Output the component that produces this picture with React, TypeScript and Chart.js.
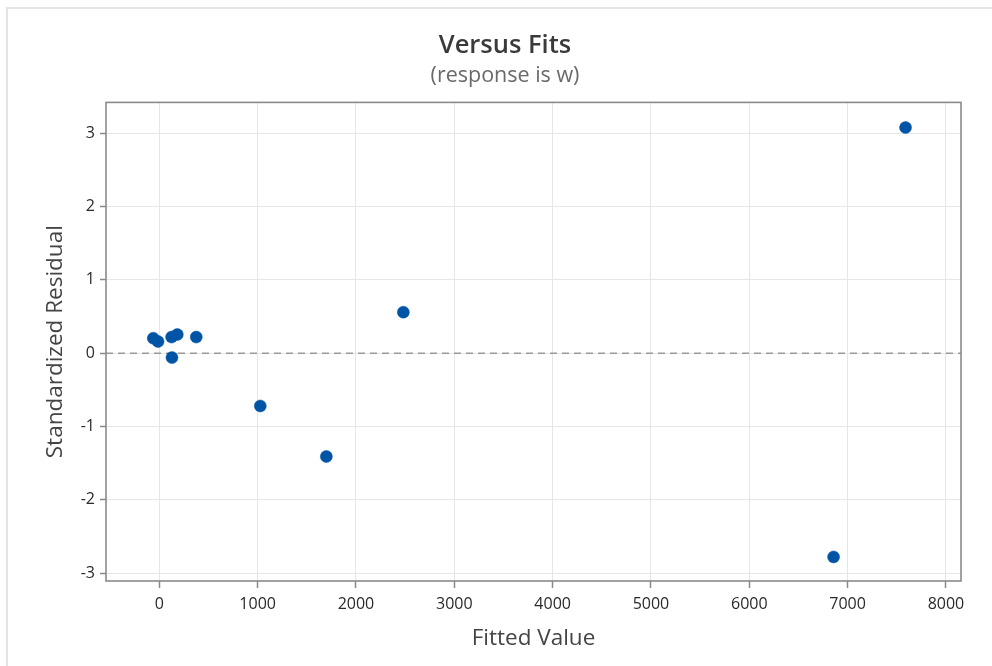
import React, { useEffect, useRef } from "react";
import { Chart, registerables } from "chart.js";

Chart.register(...registerables);

const fittedValues = [-61, -13, 125, 183, 376, 129, 1027, 1699, 2482, 6857, 7589];
const standardizedResiduals = [0.205, 0.16, 0.22, 0.255, 0.22, -0.06, -0.72, -1.41, 0.56, -2.78, 3.08];
const xTickValues = [0, 1000, 2000, 3000, 4000, 5000, 6000, 7000, 8000];
const yTickValues = [-3, -2, -1, 0, 1, 2, 3];
const xRange = [-542, 8153];
const yRange = [-3.109, 3.423];
const referenceLevel = 0;

const FONT = "'Open Sans', 'Noto Sans', sans-serif";

const framePlugin = {
  id: "frameAndRef",
  beforeDatasetsDraw(chart: any) {
    const { ctx, chartArea, scales } = chart;
    const y0 = scales.y.getPixelForValue(referenceLevel);
    ctx.save();
    ctx.strokeStyle = "#9a9a9a";
    ctx.lineWidth = 1.5;
    ctx.setLineDash([7, 5]);
    ctx.beginPath();
    ctx.moveTo(chartArea.left, y0);
    ctx.lineTo(chartArea.right, y0);
    ctx.stroke();
    ctx.setLineDash([]);
    ctx.strokeStyle = "#8a8a8a";
    ctx.lineWidth = 1.6;
    ctx.strokeRect(chartArea.left, chartArea.top, chartArea.right - chartArea.left, chartArea.bottom - chartArea.top);
    ctx.restore();
  },
};

export default function App() {
  const ref = useRef<HTMLCanvasElement | null>(null);
  useEffect(() => {
    if (!ref.current) return;
    const chart = new Chart(ref.current, {
      type: "scatter",
      data: {
        datasets: [
          {
            data: fittedValues.map((x, i) => ({ x, y: standardizedResiduals[i] })),
            backgroundColor: "#0054a6",
            borderColor: "#0054a6",
            borderWidth: 0.5,
            pointRadius: 6,
          },
        ],
      },
      options: {
        animation: false,
        responsive: false,
        maintainAspectRatio: false,
        layout: { padding: { left: 49, right: 31, top: 0, bottom: 0 } },
        plugins: {
          legend: { display: false },
          tooltip: { enabled: false },
          title: {
            display: true,
            text: "Versus Fits",
            color: "#3a3a3a",
            font: { family: FONT, size: 25.5, weight: "600" },
            padding: { top: 30, bottom: 0 },
          },
          subtitle: {
            display: true,
            text: "(response is w)",
            color: "#6a6a6a",
            font: { family: FONT, size: 21.5, weight: "400" },
            padding: { top: 2, bottom: 14 },
          },
        },
        scales: {
          x: {
            type: "linear",
            min: xRange[0],
            max: xRange[1],
            afterBuildTicks(scale: any) {
              scale.ticks = xTickValues.map((value) => ({ value }));
            },
            afterFit(scale: any) {
              scale.height = 85;
            },
            ticks: {
              color: "#2a2a2a",
              font: { family: FONT, size: 16 },
              padding: 7,
              maxRotation: 0,
              autoSkip: false,
              callback: (v: any) => String(v),
            },
            grid: { color: "#e6e6e6", lineWidth: 1, tickLength: 7, tickColor: "#8a8a8a", tickWidth: 1.5 },
            border: { display: false },
            title: {
              display: true,
              text: "Fitted Value",
              color: "#444444",
              font: { family: FONT, size: 22.5 },
              padding: { top: 0, bottom: 14 },
            },
          },
          y: {
            type: "linear",
            min: yRange[0],
            max: yRange[1],
            afterBuildTicks(scale: any) {
              scale.ticks = yTickValues.map((value) => ({ value }));
            },
            afterFit(scale: any) {
              scale.width = 57;
            },
            ticks: {
              color: "#2a2a2a",
              font: { family: FONT, size: 16 },
              padding: 5,
              autoSkip: false,
              callback: (v: any) => String(v),
            },
            grid: { color: "#e6e6e6", lineWidth: 1, tickLength: 6, tickColor: "#8a8a8a", tickWidth: 1.5 },
            border: { display: false },
            title: {
              display: true,
              text: "Standardized Residual",
              color: "#444444",
              font: { family: FONT, size: 22.5 },
              padding: { top: -7, bottom: 0 },
            },
          },
        },
      },
      plugins: [framePlugin],
    });
    return () => chart.destroy();
  }, []);

  return (
    <div style={{ position: "absolute", left: 0, top: 0, width: 992, height: 666, background: "#fff", overflow: "hidden" }}>
      <div
        style={{
          position: "absolute",
          left: 6,
          top: 7,
          width: 1000,
          height: 700,
          borderTop: "2px solid #e4e4e4",
          borderLeft: "2px solid #e4e4e4",
        }}
      />
      <canvas ref={ref} width={992} height={666} style={{ position: "absolute", left: 0, top: 0, width: 992, height: 666 }} />
    </div>
  );
}
